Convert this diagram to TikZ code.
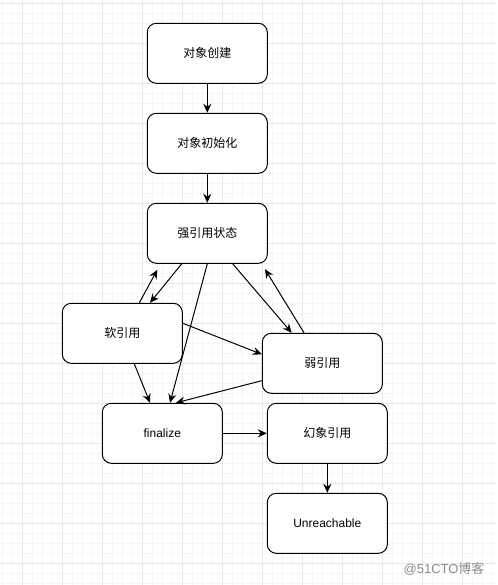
\documentclass[tikz,border=0pt]{standalone}
\usepackage{fontspec}
\setmainfont{Liberation Sans}
\newfontfamily\cjk{Noto Sans CJK SC}
\usetikzlibrary{arrows.meta}
\definecolor{gminor}{HTML}{F5F5F5}
\definecolor{gmajor}{HTML}{E8E8E8}
\definecolor{wm}{HTML}{8C8C8C}
\tikzset{
  box/.style={draw=black, line width=1pt, rounded corners=9pt, fill=white,
    minimum width=120pt, minimum height=60pt, inner sep=0pt,
    font=\fontsize{12}{14}\selectfont},
  conn/.style={line width=1pt, -{Stealth[length=9pt,width=8pt,inset=3pt]}},
}
\begin{document}
\begin{tikzpicture}[x=1pt,y=-1pt]
\useasboundingbox (0,0) rectangle (497,585);
\fill[white] (0,0) rectangle (497,585);
% grid
\foreach \i in {0,...,49} {\draw[gminor, line width=1pt] (2.5+10*\i,0) -- (2.5+10*\i,585);}
\foreach \i in {0,...,58} {\draw[gminor, line width=1pt] (0,3.5+10*\i) -- (497,3.5+10*\i);}
\foreach \i in {0,...,12} {\draw[gmajor, line width=1pt] (22.5+40*\i,0) -- (22.5+40*\i,585);}
\foreach \i in {0,...,14} {\draw[gmajor, line width=1pt] (0,3.5+40*\i) -- (497,3.5+40*\i);}
% nodes
\node[box] (create) at (207.3,53.3) {\cjk 对象创建};
\node[box] (init) at (207.3,143.3) {\cjk 对象初始化};
\node[box] (strong) at (207.3,233.3) {\cjk 强引用状态};
\node[box] (soft) at (122.3,333.3) {\cjk 软引用};
\node[box] (weak) at (322.3,363.3) {\cjk 弱引用};
\node[box] (fin) at (162.3,433.3) {finalize};
\node[box] (phantom) at (327.3,433.3) {\cjk 幻象引用};
\node[box] (unr) at (327.3,523.3) {Unreachable};
\node[text=wm, font=\fontsize{13}{15}\selectfont, anchor=east] (mark) at (488,568.5) {@51CTO{\cjk 博客}};
% connectors
\draw[conn] (create.south) -- (init.north);
\draw[conn] (init.south) -- (strong.north);
\draw[conn] ([xshift=-25.6pt]strong.south) -- ([xshift=27.7pt]soft.north);
\draw[conn] ([xshift=17pt]soft.north) -- ([xshift=-50pt,yshift=-6pt]strong.south);
\draw[conn] (strong.south) -- ([xshift=7.7pt]fin.north);
\draw[conn] ([xshift=25.4pt]strong.south) -- ([xshift=-30.6pt]weak.north);
\draw[conn] ([xshift=-18.3pt]weak.north) -- ([xshift=57.7pt,yshift=-5.4pt]strong.south);
\draw[conn] ([yshift=10pt]soft.east) -- ([yshift=9pt]weak.west);
\draw[conn] ([xshift=12pt]soft.south) -- ([xshift=-12.3pt]fin.north);
\draw[conn] ([yshift=-17.4pt]weak.west) -- ([xshift=13.7pt]fin.north);
\draw[conn] (fin.east) -- (phantom.west);
\draw[conn] (phantom.south) -- (unr.north);
\end{tikzpicture}
\end{document}
